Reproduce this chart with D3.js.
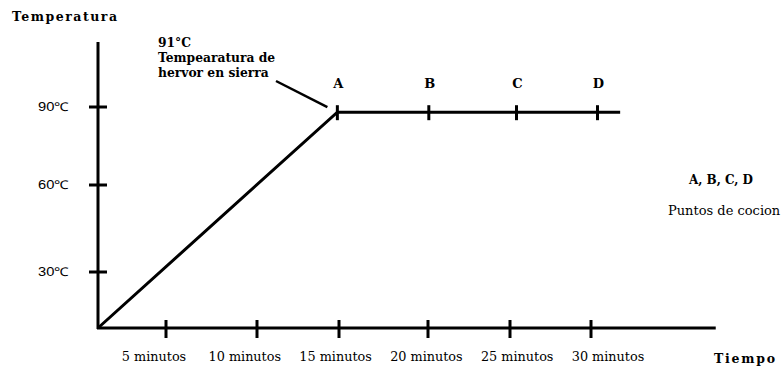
<!DOCTYPE html>
<html>
<head>
<meta charset="utf-8">
<script src="https://cdn.jsdelivr.net/npm/d3@7"></script>
<style>
  html, body { margin: 0; padding: 0; background: #fff; }
  svg { display: block; }
  .serif { font-family: "DejaVu Serif", "Liberation Serif", serif; fill: #000; }
  .sans { font-family: "Liberation Sans", Arial, sans-serif; fill: #000; }
</style>
</head>
<body>
<svg id="chart" width="784" height="367"></svg>
<script>
// ---- data ----
const xTicks = [5, 10, 15, 20, 25, 30];
const xTickLabels = ["5 minutos", "10 minutos", "15 minutos", "20 minutos", "25 minutos", "30 minutos"];
const yTicks = [30, 60, 90];
const yTickLabels = ["30℃", "60℃", "90℃"];
const lineTimes = [0, 14.9, 31.8];
const lineTemps = [0, 88, 88];
const pointNames = ["A", "B", "C", "D"];
const pointTimes = [14.9, 20.05, 25.4, 30.4];
const pointTemp = 88;
const axisMax = { time: 37.7, temp: 115 };
const titles = { y: "Temperatura", x: "Tiempo" };
const annotation = ["91°C", "Tempearatura de", "hervor en sierra"];
const legendTitle = "A, B, C, D";
const legendText = "Puntos de cocion";

// ---- scales (hand-drawn, slightly uneven spacing) ----
const x = d3.scaleLinear()
  .domain([0, 5, 10, 15, 20, 25, 30])
  .range([98, 166, 257, 339, 428, 510, 591]);
const xLabel = d3.scaleLinear().domain([5, 30]).range([154, 608]);
const y = d3.scaleLinear()
  .domain([0, 30, 60, 90])
  .range([328, 272, 185, 107]);

const svg = d3.select("#chart");
const sw = 3;

// axes
svg.append("line")
  .attr("x1", x(0)).attr("x2", x(0))
  .attr("y1", y(0) + 1).attr("y2", y(axisMax.temp))
  .attr("stroke", "#000").attr("stroke-width", sw);
svg.append("line")
  .attr("x1", x(0) - 1).attr("x2", x(axisMax.time))
  .attr("y1", y(0)).attr("y2", y(0))
  .attr("stroke", "#000").attr("stroke-width", sw);

// x ticks
svg.selectAll(".xt").data(xTicks).enter().append("line")
  .attr("x1", d => x(d)).attr("x2", d => x(d))
  .attr("y1", y(0) - 8).attr("y2", y(0) + 10)
  .attr("stroke", "#000").attr("stroke-width", sw);
svg.selectAll(".xl").data(xTicks).enter().append("text")
  .attr("class", "serif")
  .attr("x", d => xLabel(d)).attr("y", 361)
  .attr("text-anchor", "middle")
  .attr("font-size", 12.8)
  .text((d, i) => xTickLabels[i]);

// y ticks
svg.selectAll(".yt").data(yTicks).enter().append("line")
  .attr("x1", x(0) - 9).attr("x2", x(0) + 9)
  .attr("y1", d => y(d)).attr("y2", d => y(d))
  .attr("stroke", "#000").attr("stroke-width", sw);
svg.selectAll(".yl").data(yTicks).enter().append("text")
  .attr("class", "sans")
  .attr("x", 38).attr("y", d => y(d) + 4)
  .attr("font-size", 12)
  .attr("textLength", 31).attr("lengthAdjust", "spacingAndGlyphs")
  .text((d, i) => yTickLabels[i]);

// data line
const lineData = lineTimes.map((t, i) => [t, lineTemps[i]]);
svg.append("path")
  .datum(lineData)
  .attr("d", d3.line().x(d => x(d[0])).y(d => y(d[1])))
  .attr("fill", "none").attr("stroke", "#000")
  .attr("stroke-width", sw).attr("stroke-linejoin", "miter");

// cooking point ticks and labels
svg.selectAll(".pt").data(pointTimes).enter().append("line")
  .attr("x1", d => x(d)).attr("x2", d => x(d))
  .attr("y1", y(pointTemp) - 7).attr("y2", y(pointTemp) + 8)
  .attr("stroke", "#000").attr("stroke-width", sw);
svg.selectAll(".pl").data(pointTimes).enter().append("text")
  .attr("class", "serif")
  .attr("x", d => x(d) + 1).attr("y", 88)
  .attr("text-anchor", "middle")
  .attr("font-size", 13).attr("font-weight", "bold")
  .text((d, i) => pointNames[i]);

// annotation
const ann = svg.append("text").attr("class", "serif")
  .attr("font-size", 12.3).attr("font-weight", "bold");
const annY = [47, 62, 77];
annotation.forEach((s, i) => {
  ann.append("tspan").attr("x", 158).attr("y", annY[i]).text(s);
});
svg.append("line")
  .attr("x1", 276).attr("y1", 81)
  .attr("x2", x(pointTimes[0]) - 10).attr("y2", y(pointTemp) - 5)
  .attr("stroke", "#000").attr("stroke-width", 2.5);

// axis titles
svg.append("text").attr("class", "serif")
  .attr("x", 12).attr("y", 21)
  .attr("font-size", 12.5).attr("font-weight", "bold")
  .attr("textLength", 105).attr("lengthAdjust", "spacing")
  .text(titles.y);
svg.append("text").attr("class", "serif")
  .attr("x", 714).attr("y", 363)
  .attr("font-size", 12.5).attr("font-weight", "bold")
  .attr("textLength", 61).attr("lengthAdjust", "spacing")
  .text(titles.x);

// legend
svg.append("text").attr("class", "serif")
  .attr("x", 689).attr("y", 184)
  .attr("font-size", 12).attr("font-weight", "bold")
  .attr("textLength", 64).attr("lengthAdjust", "spacing")
  .text(legendTitle);
svg.append("text").attr("class", "serif")
  .attr("x", 668).attr("y", 215)
  .attr("font-size", 13)
  .text(legendText);
</script>
</body>
</html>
